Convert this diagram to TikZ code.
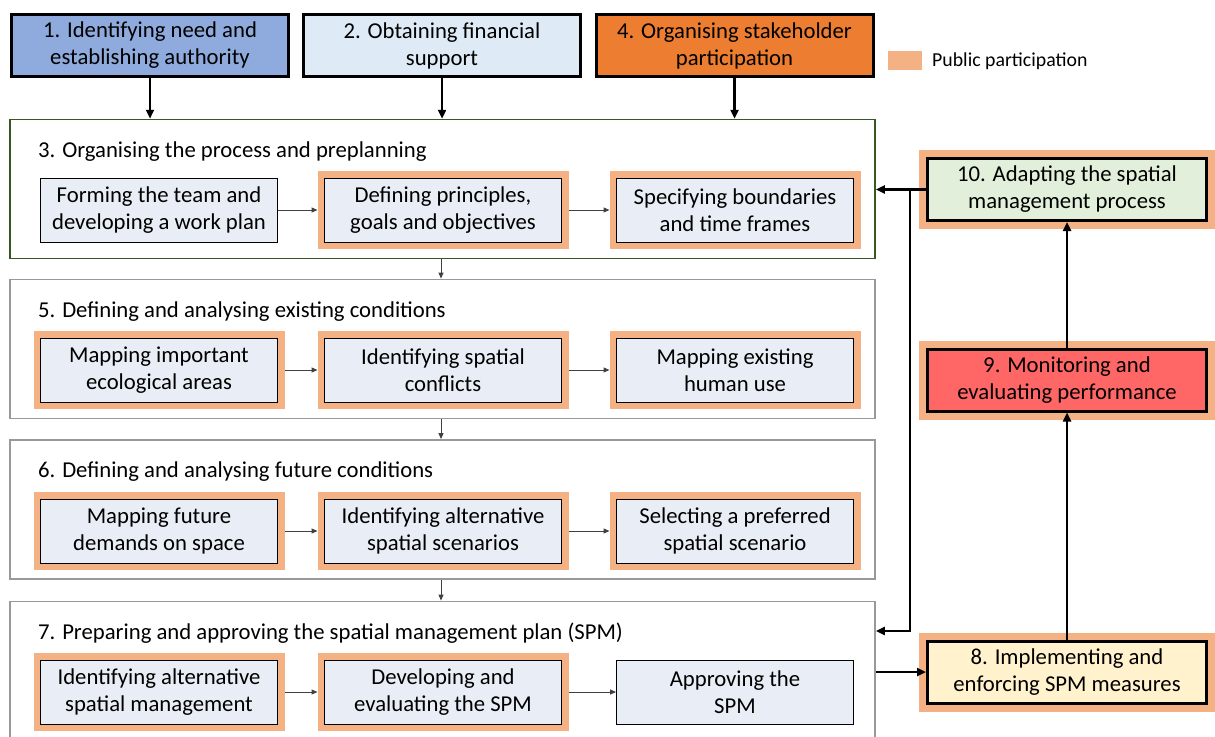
\documentclass[tikz,border=0pt]{standalone}
\usepackage{fontspec}
\setmainfont{Carlito}
\usetikzlibrary{arrows.meta}

\definecolor{authblue}{HTML}{8FAADC}
\definecolor{fundblue}{HTML}{DEEBF7}
\definecolor{stakeorange}{HTML}{ED7D31}
\definecolor{publicpart}{HTML}{F4B183}
\definecolor{taskfill}{HTML}{E9EEF6}
\definecolor{implfill}{HTML}{FFF2CC}
\definecolor{monfill}{HTML}{FF6666}
\definecolor{adaptfill}{HTML}{E2EFDA}
\definecolor{phasegreen}{HTML}{385723}
\definecolor{phasegrey}{HTML}{999999}
\newcommand\labelfont{\fontsize{22.7}{27}\selectfont}

\begin{document}
\begin{tikzpicture}[x=1pt,y=-1pt,
  stage/.style={draw=black,line width=3pt,minimum width=277pt,minimum height=62pt,
    inner sep=0pt,align=center,font=\labelfont},
  cycle/.style={stage,minimum width=279pt,preaction={draw=publicpart,line width=17pt}},
  task/.style={draw=black,line width=0.8pt,fill=taskfill,minimum width=237pt,
    minimum height=64pt,inner sep=0pt,align=center,font=\labelfont},
  publictask/.style={task,preaction={draw=publicpart,line width=14pt},outer sep=7pt},
  phase/.style={draw=phasegrey,line width=1.8pt,minimum width=865pt,minimum height=139pt,inner sep=0pt},
  phasetitle/.style={anchor=west,inner sep=0pt,font=\labelfont},
  flow/.style={draw=black!75,line width=1pt,-{Triangle[length=6pt,width=5pt]}},
  link/.style={draw=black,line width=2.6pt,-{Triangle[length=9pt,width=8pt]}},
  ]
\useasboundingbox (0,0) rectangle (1215,736);
\clip (0,0) rectangle (1215,736);

% initial stages
\node[stage,fill=authblue]    (s1) at (150,45.5)   {1. Identifying need and\\establishing authority};
\node[stage,fill=fundblue]    (s2) at (442,45.5)   {2. Obtaining financial\\support};
\node[stage,fill=stakeorange] (s4) at (734.5,45.5) {4. Organising stakeholder\\participation};

% key
\node[fill=publicpart,minimum width=34pt,minimum height=19pt,inner sep=0pt] (key) at (905,60.5) {};
\node[anchor=west,inner sep=0pt,font=\fontsize{19.8}{22}\selectfont] (keytext) at (932,61) {Public participation};

% planning phases
\node[phase,draw=phasegreen,line width=1.5pt] (p3) at (442.5,189) {};
\node[phase] (p5) at (442.5,349)   {};
\node[phase] (p6) at (442.5,509.5) {};
\node[phase] (p7) at (442.5,671)   {};

\node[phasetitle] (t3) at (38,151.5) {3. Organising the process and preplanning};
\node[phasetitle] (t5) at (38,311.5) {5. Defining and analysing existing conditions};
\node[phasetitle] (t6) at (38,471.5) {6. Defining and analysing future conditions};
\node[phasetitle] (t7) at (38,633.5) {7. Preparing and approving the spatial management plan (SPM)};

% tasks of each phase
\node[task]       (a3) at (159,210) {Forming the team and\\developing a work plan};
\node[publictask] (b3) at (443,210) {Defining principles,\\goals and objectives};
\node[publictask] (c3) at (735,210) {Specifying boundaries\\and time frames};

\node[publictask] (a5) at (159,370) {Mapping important\\ecological areas};
\node[publictask] (b5) at (443,370) {Identifying spatial\\conflicts};
\node[publictask] (c5) at (735,370) {Mapping existing\\human use};

\node[publictask] (a6) at (159,531) {Mapping future\\demands on space};
\node[publictask] (b6) at (443,531) {Identifying alternative\\spatial scenarios};
\node[publictask] (c6) at (735,531) {Selecting a preferred\\spatial scenario};

\node[publictask] (a7) at (159,692) {Identifying alternative\\spatial management};
\node[publictask] (b7) at (443,692) {Developing and\\evaluating the SPM};
\node[task]       (c7) at (735,692) {Approving the\\SPM};

% implementation cycle
\node[cycle,fill=adaptfill] (s10) at (1067,189.5) {10. Adapting the spatial\\management process};
\node[cycle,fill=monfill]   (s9)  at (1067,380)   {9. Monitoring and\\evaluating performance};
\node[cycle,fill=implfill]  (s8)  at (1067,672)   {8. Implementing and\\enforcing SPM measures};

% connectors inside phases
\foreach \r in {3,5,6,7} {
  \draw[flow] (a\r) -- (b\r);
  \draw[flow] (b\r) -- (c\r);
}

% connectors between phases
\draw[flow] (p3.south -| 441,0) -- (p5.north -| 441,0);
\draw[flow] (p5.south -| 441,0) -- (p6.north -| 441,0);
\draw[flow] (p6.south -| 441,0) -- (p7.north -| 441,0);

% initial stages into phase 3
\draw[link] (s1.south) -- (s1.south |- p3.north);
\draw[link] (s2.south) -- (s2.south |- p3.north);
\draw[link] (s4.south) -- (s4.south |- p3.north);

% implementation cycle and feedback
\coordinate (split) at (910,189.5);
\coordinate (drop)  at (910,631);
\draw[link] (p7.east |- s8) -- (s8.west);
\draw[link] (s8) -- (s9);
\draw[link] (s9) -- (s10);
\draw[link] (s10.west) -- (p3.east |- s10);
\draw[link] (split) -- (drop) -- (p7.east |- drop);
\end{tikzpicture}
\end{document}
